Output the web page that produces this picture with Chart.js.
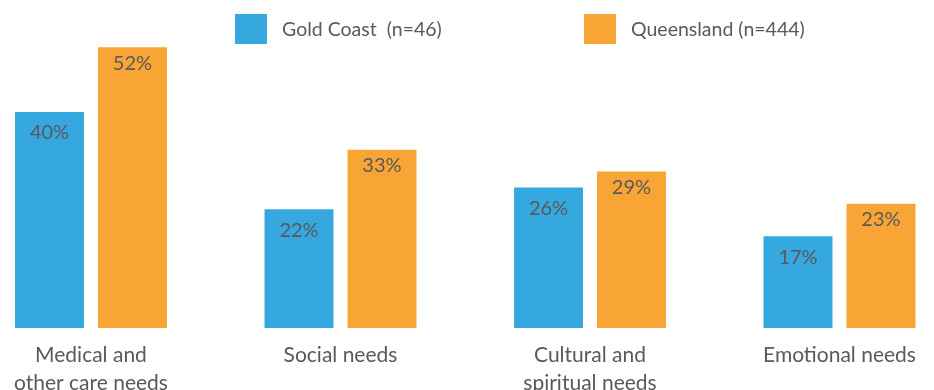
<!DOCTYPE html>
<html>
<head>
<meta charset="utf-8">
<script src="https://cdn.jsdelivr.net/npm/chart.js@4"></script>
<style>
  body { margin: 0; background: #fff; }
  .wrap { position: relative; width: 934px; height: 390px; overflow: hidden; }
  #legend { position: absolute; top: 14px; left: 235px; display: flex; }
  .legend_item { display: flex; align-items: center; width: 349px; }
  .legend_box { width: 32px; height: 30px; margin-right: 15px; }
  .legend_text { font: 19.5px Lato, sans-serif; line-height: 30px; color: #595959; white-space: pre; }
</style>
</head>
<body>
<div class="wrap">
  <canvas id="myChart" width="934" height="390"></canvas>
  <div id="legend"></div>
</div>
<script>
/* Needs by region */

let categories = [
  ["Medical and", "other care needs"],
  "Social needs",
  ["Cultural and", "spiritual needs"],
  "Emotional needs",
];
let gold_coast = [40, 22, 26, 17];
let queensland = [52, 33, 29, 23];

let text_color = "#595959";

// --- percentage written inside the top of each bar ---
let bar_values = {
  id: "bar_values",
  afterDatasetsDraw(chart) {
    let ctx = chart.ctx;
    ctx.save();
    ctx.font = "20px Lato";
    ctx.fillStyle = text_color;
    ctx.textAlign = "center";
    ctx.textBaseline = "middle";
    chart.data.datasets.forEach((ds, i) => {
      chart.getDatasetMeta(i).data.forEach((bar, j) => {
        ctx.fillText(ds.data[j] + "%", bar.x, bar.y + ds.labelOffset);
      });
    });
    ctx.restore();
  },
};

let chart = new Chart("myChart", {
  type: "bar",
  data: {
    labels: categories,
    datasets: [
      {
        label: "Gold Coast  (n=46)",
        backgroundColor: "#35a8e0",
        data: gold_coast,
        labelOffset: 21,
        clip: false,
      },
      {
        label: "Queensland (n=444)",
        backgroundColor: "#f9a535",
        data: queensland,
        labelOffset: 16,
        clip: false,
      },
    ],
  },
  options: {
    responsive: false,
    animation: false,
    categoryPercentage: 0.665,
    barPercentage: 0.831,
    layout: { padding: { left: 90, right: 94.5, top: 4, bottom: 0 } },
    plugins: {
      legend: { display: false },
      tooltip: { enabled: false },
    },
    scales: {
      x: {
        offset: false,
        grid: { display: false, drawTicks: false },
        border: { display: false },
        ticks: {
          color: text_color,
          font: { family: "Lato", size: 21, lineHeight: 1.3 },
          padding: 14,
          maxRotation: 0,
          autoSkip: false,
        },
        afterFit(scale) {
          scale.height = 62;
        },
      },
      y: {
        display: false,
        min: 0,
        max: 60,
      },
    },
  },
  plugins: [bar_values],
});

// --- html legend built from the chart's own legend items ---
let legend_el = document.getElementById("legend");
chart.options.plugins.legend.labels.generateLabels(chart).forEach((item) => {
  let row = document.createElement("div");
  row.classList.add("legend_item");

  let box = document.createElement("span");
  box.classList.add("legend_box");
  box.style.background = item.fillStyle;
  row.appendChild(box);

  let txt = document.createElement("span");
  txt.classList.add("legend_text");
  txt.textContent = item.text;
  row.appendChild(txt);

  legend_el.appendChild(row);
});
</script>
</body>
</html>
